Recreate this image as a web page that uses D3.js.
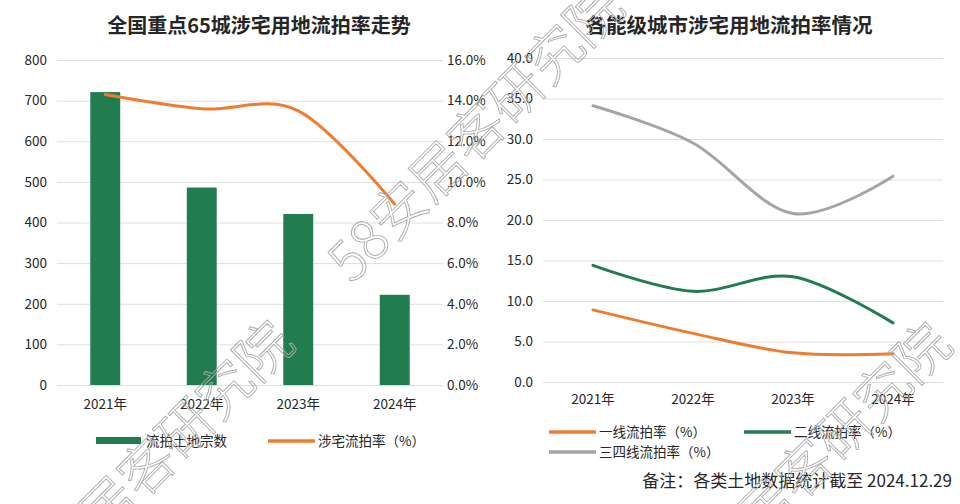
<!DOCTYPE html>
<html>
<head>
<meta charset="utf-8">
<title>涉宅用地流拍率</title>
<script src="https://d3js.org/d3.v7.min.js"></script>
<style>
  body { margin: 0; background: #fff; }
  text { font-family: "Noto Sans CJK SC", "Noto Sans", sans-serif; fill: #262626; }
</style>
</head>
<body>
<svg width="960" height="504"></svg>
<script>
    const years = ["2021年", "2022年", "2023年", "2024年"];
    const landCount = [721, 486, 421, 222];       // 流拍土地宗数
    const rateAll = [14.3, 13.6, 13.5, 8.9];      // 涉宅流拍率（%）
    const tier1 = [8.9, 6.0, 3.6, 3.5];
    const tier2 = [14.4, 11.2, 13.0, 7.3];
    const tier34 = [34.1, 29.5, 20.8, 25.4];
    const countTicks = [0, 100, 200, 300, 400, 500, 600, 700, 800];
    const pctTicks = [0, 2, 4, 6, 8, 10, 12, 14, 16];
    const tierTicks = [0, 5, 10, 15, 20, 25, 30, 35, 40];

    const green = "#217d50";
    const orange = "#ed7d31";
    const grey = "#a5a5a5";
    const gridColor = "#dedede";

    const svg = d3.select("svg");

    // ---------- left chart ----------
    const left = svg.append("g");

    left.append("text")
        .attr("x", 259).attr("y", 33)
        .attr("text-anchor", "middle")
        .attr("font-size", 20).attr("font-weight", "bold")
        .text("全国重点65城涉宅用地流拍率走势");

    const x1 = d3.scaleBand().domain(years).range([57, 443]);
    const yCount = d3.scaleLinear().domain([0, 800]).range([385, 60]);
    const yPct = d3.scaleLinear().domain([0, 16]).range([385, 60]);

    left.append("g")
        .attr("transform", "translate(57,0)")
        .call(d3.axisLeft(yCount).tickValues(countTicks).tickSize(-386).tickPadding(10))
        .call(g => g.select(".domain").remove())
        .call(g => g.selectAll("line").attr("stroke", gridColor))
        .call(g => g.selectAll("text").attr("font-size", 13.5).attr("fill", "#262626"));

    left.append("g")
        .attr("transform", "translate(443,0)")
        .call(d3.axisRight(yPct).tickValues(pctTicks).tickSize(0).tickPadding(4)
            .tickFormat(d => d.toFixed(1) + "%"))
        .call(g => g.select(".domain").remove())
        .call(g => g.selectAll("text").attr("font-size", 13.5).attr("fill", "#262626"));

    left.append("g")
        .attr("transform", "translate(0,385)")
        .call(d3.axisBottom(x1).tickSize(0).tickPadding(14))
        .call(g => g.select(".domain").attr("stroke", gridColor))
        .call(g => g.selectAll("text").attr("font-size", 13.5).attr("fill", "#262626"));

    const barW = x1.bandwidth() * 0.31;
    left.append("g").selectAll("rect")
        .data(landCount)
        .join("rect")
        .attr("x", (d, i) => x1(years[i]) + x1.bandwidth() / 2 - barW / 2)
        .attr("width", barW)
        .attr("y", d => yCount(d))
        .attr("height", d => yCount(0) - yCount(d))
        .attr("fill", green);

    const lineLeft = d3.line()
        .x((d, i) => x1(years[i]) + x1.bandwidth() / 2)
        .y(d => yPct(d))
        .curve(d3.curveCardinal.tension(0));

    left.append("path")
        .attr("d", lineLeft(rateAll))
        .attr("fill", "none")
        .attr("stroke", orange)
        .attr("stroke-width", 3)
        .attr("stroke-linecap", "round");

    // legend
    left.append("rect").attr("x", 96).attr("y", 437).attr("width", 45).attr("height", 7).attr("fill", green);
    left.append("text").attr("x", 146).attr("y", 446).attr("font-size", 13.5).text("流拍土地宗数");
    left.append("line").attr("x1", 268).attr("x2", 315).attr("y1", 441).attr("y2", 441)
        .attr("stroke", orange).attr("stroke-width", 3.5);
    left.append("text").attr("x", 318).attr("y", 446).attr("font-size", 13.5).text("涉宅流拍率（%）");

    // ---------- right chart ----------
    const right = svg.append("g");

    right.append("text")
        .attr("x", 729).attr("y", 33)
        .attr("text-anchor", "middle")
        .attr("font-size", 20.5).attr("font-weight", "bold")
        .text("各能级城市涉宅用地流拍率情况");

    const x2 = d3.scaleBand().domain(years).range([543, 943]);
    const yTier = d3.scaleLinear().domain([0, 40]).range([382, 58]);

    right.append("g")
        .attr("transform", "translate(543,0)")
        .call(d3.axisLeft(yTier).tickValues(tierTicks).tickSize(-400).tickPadding(10)
            .tickFormat(d => d.toFixed(1)))
        .call(g => g.select(".domain").remove())
        .call(g => g.selectAll("line").attr("stroke", gridColor))
        .call(g => g.selectAll("text").attr("font-size", 13.5).attr("fill", "#262626"));

    right.append("g")
        .attr("transform", "translate(0,382)")
        .call(d3.axisBottom(x2).tickSize(0).tickPadding(12))
        .call(g => g.select(".domain").attr("stroke", gridColor))
        .call(g => g.selectAll("text").attr("font-size", 13.5).attr("fill", "#262626"));

    const lineRight = d3.line()
        .x((d, i) => x2(years[i]) + x2.bandwidth() / 2)
        .y(d => yTier(d))
        .curve(d3.curveCardinal.tension(0));

    const tierSeries = [
        { name: "一线流拍率（%）", values: tier1, color: orange },
        { name: "二线流拍率（%）", values: tier2, color: green },
        { name: "三四线流拍率（%）", values: tier34, color: grey }
    ];

    right.append("g").selectAll("path")
        .data(tierSeries)
        .join("path")
        .attr("d", d => lineRight(d.values))
        .attr("fill", "none")
        .attr("stroke", d => d.color)
        .attr("stroke-width", 3)
        .attr("stroke-linecap", "round");

    const legendPos = [[549, 432], [744, 432], [549, 452]];
    const lg = right.append("g").selectAll("g")
        .data(tierSeries)
        .join("g")
        .attr("transform", (d, i) => `translate(${legendPos[i][0]},${legendPos[i][1]})`);
    lg.append("line").attr("x1", 0).attr("x2", 47)
        .attr("stroke", d => d.color).attr("stroke-width", 3.5);
    lg.append("text").attr("x", 50).attr("y", 5).attr("font-size", 13.5).text(d => d.name);

    // footnote
    svg.append("text")
        .attr("x", 952).attr("y", 487)
        .attr("text-anchor", "end")
        .attr("font-size", 17)
        .attr("fill", "#000")
        .text("备注：各类土地数据统计截至 2024.12.29");

    // watermark (hollow, thin glyph outlines)
    const marks = [[352, 285], [22, 620], [680, 622]];
    svg.append("g").selectAll("text")
        .data(marks)
        .join("text")
        .attr("transform", d => `translate(${d[0]},${d[1]}) rotate(-45)`)
        .attr("font-size", 55)
        .attr("font-weight", 300)
        .style("fill", "none")
        .style("stroke", "#ababab")
        .style("stroke-width", 0.9)
        .text("58安居客研究院");
</script>
</body>
</html>
